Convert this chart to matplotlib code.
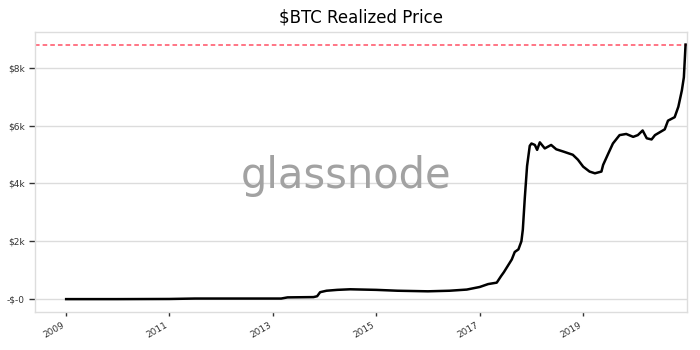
import matplotlib.pyplot as plt
import matplotlib.dates as mdates
from matplotlib.ticker import FuncFormatter
import pandas as pd

# Data (realized price, USD)
dates = ['2009-01-03', '2010-01-01', '2011-01-01', '2011-07-01', '2012-06-01',
         '2013-03-01', '2013-04-15', '2013-10-15', '2013-11-10', '2013-12-01',
         '2014-01-15', '2014-04-01', '2014-07-01', '2014-10-01', '2015-01-01',
         '2015-06-01', '2016-01-01', '2016-06-01', '2016-10-01', '2017-01-01',
         '2017-03-01', '2017-05-01', '2017-06-01', '2017-06-20', '2017-08-15',
         '2017-09-05', '2017-10-01', '2017-10-22', '2017-11-01', '2017-11-15',
         '2017-12-01', '2017-12-20', '2018-01-01', '2018-01-25', '2018-02-10',
         '2018-03-01', '2018-04-05', '2018-05-20', '2018-06-25', '2018-08-15',
         '2018-10-20', '2018-11-25', '2019-01-01', '2019-02-15', '2019-03-25',
         '2019-05-10', '2019-05-22', '2019-06-28', '2019-07-30', '2019-09-15',
         '2019-11-01', '2019-12-20', '2020-01-22', '2020-02-25', '2020-03-25',
         '2020-04-28', '2020-05-22', '2020-07-30', '2020-08-22', '2020-10-08',
         '2020-11-03', '2020-11-28', '2020-12-12', '2020-12-24']
price = [0, 0, 5, 20, 20,
         20, 60, 70, 100, 240,
         290, 320, 340, 330, 320,
         290, 270, 290, 330, 420,
         520, 570, 800, 930, 1370,
         1630, 1720, 2000, 2400, 3500,
         4600, 5300, 5380, 5330, 5160,
         5420, 5210, 5330, 5180, 5100,
         4990, 4820, 4580, 4410, 4350,
         4410, 4640, 5040, 5380, 5670,
         5710, 5610, 5670, 5830, 5560,
         5520, 5670, 5870, 6170, 6290,
         6650, 7220, 7670, 8800]
year_ticks = ['2009', '2011', '2013', '2015', '2017', '2019']
price_ticks = [0, 2000, 4000, 6000, 8000]

df = pd.DataFrame({'date': pd.to_datetime(dates), 'price': price})

fig = plt.figure(figsize=(7, 3.5), dpi=100)
ax = fig.add_axes([0.05, 0.109, 0.931, 0.8])

ax.plot(df['date'], df['price'], color='black', linewidth=1.8, zorder=3)
ax.axhline(df['price'].max(), color='#ff4f64', linestyle='--', linewidth=1.1, dashes=(3, 2))

ax.set_xlim(pd.Timestamp('2008-05-28'), pd.Timestamp('2021-01-01'))
ax.set_xticks([pd.Timestamp(y + '-01-01') for y in year_ticks])
ax.xaxis.set_major_formatter(mdates.DateFormatter('%Y'))
ax.set_yticks(price_ticks)


def fmt(x, pos):
    if x == 0:
        return '-\\$-0'
    return '\\$%dk' % (x / 1000)


ax.yaxis.set_major_formatter(FuncFormatter(fmt))
ax.tick_params(axis='y', labelsize=6.5, length=4, width=1, color='#333333', labelcolor='#333333')
ax.tick_params(axis='x', labelsize=6.5, length=3, width=1, color='#333333', labelcolor='#333333')
for lab in ax.get_xticklabels():
    lab.set_rotation(30)
    lab.set_ha('right')

ax.grid(axis='y', color='#dcdcdc', linewidth=1)
ax.set_axisbelow(True)
for s in ax.spines.values():
    s.set_color('#dddddd')
    s.set_linewidth(1)

ax.set_title('\\$BTC Realized Price', fontsize=12, pad=7)

# watermark
fig.text(0.495, 0.497, 'glassnode', fontsize=30, color='#a2a2a2',
         ha='center', va='center', family='DejaVu Sans', zorder=5)

plt.savefig('out.png', dpi=100)
